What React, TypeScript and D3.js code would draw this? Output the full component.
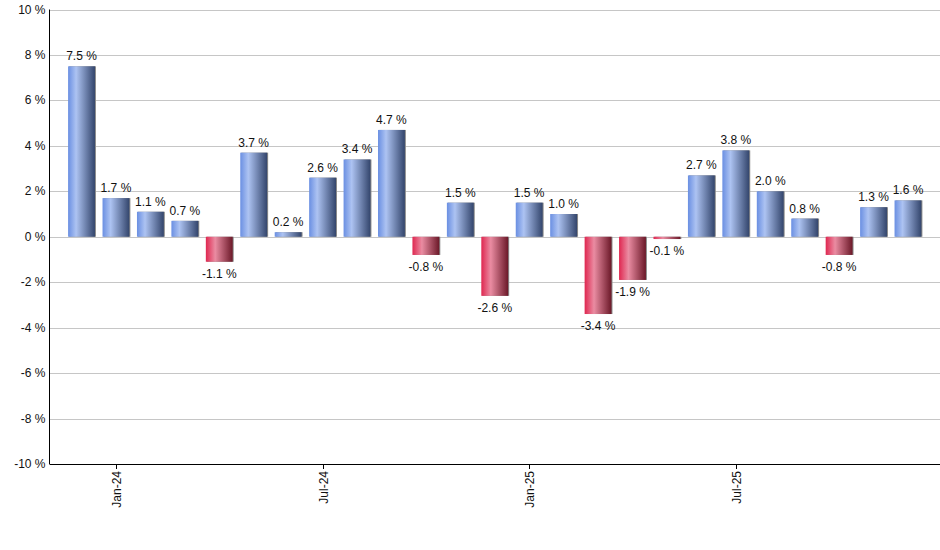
import React, { useEffect, useRef } from "react";
import * as d3 from "d3";

const months = [
  "Dec-23", "Jan-24", "Feb-24", "Mar-24", "Apr-24", "May-24", "Jun-24",
  "Jul-24", "Aug-24", "Sep-24", "Oct-24", "Nov-24", "Dec-24", "Jan-25",
  "Feb-25", "Mar-25", "Apr-25", "May-25", "Jun-25", "Jul-25", "Aug-25",
  "Sep-25", "Oct-25", "Nov-25", "Dec-25",
];
const changes = [
  7.5, 1.7, 1.1, 0.7, -1.1, 3.7, 0.2, 2.6, 3.4, 4.7, -0.8, 1.5, -2.6, 1.5,
  1.0, -3.4, -1.9, -0.1, 2.7, 3.8, 2.0, 0.8, -0.8, 1.3, 1.6,
];
const labelledMonths = ["Jan-24", "Jul-24", "Jan-25", "Jul-25"];
const yTicks = [-10, -8, -6, -4, -2, 0, 2, 4, 6, 8, 10];

const App: React.FC = () => {
  const svgRef = useRef<SVGSVGElement>(null);

  useEffect(() => {
    const width = 940;
    const height = 550;
    const margin = { top: 9.5, right: 0, bottom: 86, left: 49.5 };

    const svg = d3
      .select(svgRef.current)
      .attr("width", width)
      .attr("height", height);
    svg.selectAll("*").remove();

    const defs = svg.append("defs");
    const blue = defs
      .append("linearGradient")
      .attr("id", "gradBlue")
      .attr("x1", "0%")
      .attr("x2", "100%");
    blue.append("stop").attr("offset", "0%").attr("stop-color", "#6a8fe2");
    blue.append("stop").attr("offset", "30%").attr("stop-color", "#adc3f2");
    blue.append("stop").attr("offset", "100%").attr("stop-color", "#33456c");
    const red = defs
      .append("linearGradient")
      .attr("id", "gradRed")
      .attr("x1", "0%")
      .attr("x2", "100%");
    red.append("stop").attr("offset", "0%").attr("stop-color", "#df2750");
    red.append("stop").attr("offset", "35%").attr("stop-color", "#ea8ca2");
    red.append("stop").attr("offset", "100%").attr("stop-color", "#6b1828");

    const x = d3
      .scaleBand<string>()
      .domain(months)
      .range([margin.left, width - margin.right])
      .paddingInner(0.22)
      .paddingOuter(0.54);

    const y = d3
      .scaleLinear()
      .domain([-10, 10])
      .range([height - margin.bottom, margin.top]);

    // Grid lines
    svg
      .append("g")
      .selectAll("line")
      .data(yTicks.filter((t) => t !== -10))
      .join("line")
      .attr("x1", margin.left)
      .attr("x2", width - margin.right)
      .attr("y1", (d) => Math.round(y(d)) + 0.5)
      .attr("y2", (d) => Math.round(y(d)) + 0.5)
      .attr("stroke", "#c6c6c6")
      .attr("stroke-width", 1);

    // Y labels
    svg
      .append("g")
      .selectAll("text")
      .data(yTicks)
      .join("text")
      .attr("x", margin.left - 4)
      .attr("y", (d) => y(d) + 4)
      .attr("text-anchor", "end")
      .style("font-family", "'Liberation Sans', Arial, sans-serif")
      .style("font-size", "12px")
      .attr("fill", "#111")
      .text((d) => `${d} %`);

    // Bars
    const bars = svg.append("g");
    months.forEach((m, i) => {
      const v = changes[i];
      const x0 = x(m)!;
      const y0 = y(Math.max(v, 0));
      const h = Math.abs(y(v) - y(0));
      bars
        .append("rect")
        .attr("x", x0 + 1)
        .attr("y", y0)
        .attr("width", x.bandwidth())
        .attr("height", h)
        .attr("fill", "#8a8a8a");
      bars
        .append("rect")
        .attr("x", x0)
        .attr("y", y0)
        .attr("width", x.bandwidth())
        .attr("height", h)
        .attr("fill", v >= 0 ? "url(#gradBlue)" : "url(#gradRed)");
      bars
        .append("text")
        .attr("x", x0 + x.bandwidth() / 2)
        .attr("y", v >= 0 ? y(v) - 6 : y(v) + 16)
        .attr("text-anchor", "middle")
        .style("font-family", "'Liberation Sans', Arial, sans-serif")
        .style("font-size", "12px")
        .attr("fill", "#111")
        .text(`${v.toFixed(1)} %`);
    });

    // Axes lines
    svg
      .append("line")
      .attr("x1", margin.left)
      .attr("x2", margin.left)
      .attr("y1", margin.top)
      .attr("y2", y(-10))
      .attr("stroke", "#000");
    svg
      .append("line")
      .attr("x1", margin.left)
      .attr("x2", width - margin.right)
      .attr("y1", Math.round(y(-10)) + 0.5)
      .attr("y2", Math.round(y(-10)) + 0.5)
      .attr("stroke", "#000");

    // X ticks and labels
    const xg = svg.append("g");
    labelledMonths.forEach((m) => {
      const cx = Math.round(x(m)! + x.bandwidth() / 2) + 0.5;
      const by = Math.round(y(-10));
      xg.append("line")
        .attr("x1", cx)
        .attr("x2", cx)
        .attr("y1", by)
        .attr("y2", by + 5)
        .attr("stroke", "#000");
      xg.append("text")
        .attr("transform", `translate(${cx + 4}, ${by + 7}) rotate(-90)`)
        .attr("text-anchor", "end")
        .style("font-family", "'Liberation Sans', Arial, sans-serif")
        .style("font-size", "12px")
        .attr("fill", "#111")
        .text(m);
    });
  }, []);

  return (
    <svg
      ref={svgRef}
      style={{ position: "absolute", top: 0, left: 0, display: "block" }}
    />
  );
};

export default App;
